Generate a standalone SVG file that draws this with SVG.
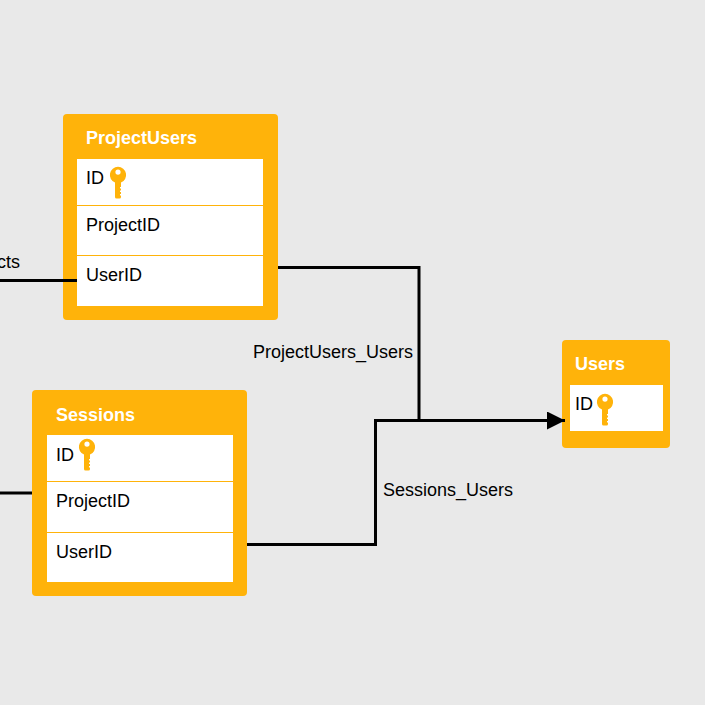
<svg xmlns="http://www.w3.org/2000/svg" width="705" height="705" viewBox="0 0 705 705">
<style>
text{font-family:"Liberation Sans",Arial,sans-serif;font-size:18px;fill:#000}
.title{font-weight:bold;fill:#fff;font-size:18px}
.box{fill:#ffb30a}
.body{fill:#fff}
.div{stroke:#ffb30a;stroke-width:1;fill:none}
.conn{stroke:#000;stroke-width:3;fill:none}
</style>
<defs>
<g id="key">
<path fill-rule="evenodd" fill="#ffb30a" d="M0,-8.200A8.200,8.200 0 0 1 3,7.600V22A1.500,1.500 0 0 1 1.500,23.500H-1.500A1.500,1.500 0 0 1 -3,22V7.600A8.200,8.200 0 0 1 0,-8.200ZM0,-5.500A2.600,2.600 0 1 0 0,-0.300A2.600,2.600 0 1 0 0,-5.500Z"/>
<path d="M2,12h1.500v1.500h-1.500zM2,15.500h1.500v1.500h-1.500zM2,19h1.500v1.500h-1.500z" fill="#fff"/>
</g>
<marker id="arrow" markerUnits="userSpaceOnUse" markerWidth="19" markerHeight="18" refX="18" refY="9" orient="auto"><path d="M0,0L18,9L0,18Z" fill="#000"/></marker>
</defs>
<rect width="705" height="705" fill="#e9e9e9"/>
<g id="ProjectUsers">
<rect class="box" x="63" y="114" width="215" height="206" rx="4"/>
<rect class="body" x="77" y="159" width="186" height="147"/>
<path class="div" d="M77,205.500H263M77,255.500H263"/>
<text class="title" x="86" y="144">ProjectUsers</text>
<text x="86" y="184">ID</text>
<use href="#key" x="118" y="175"/>
<text x="86" y="231">ProjectID</text>
<text x="86" y="281">UserID</text>
</g>
<g id="Sessions">
<rect class="box" x="32" y="390" width="215" height="206" rx="4"/>
<rect class="body" x="47" y="435" width="186" height="147"/>
<path class="div" d="M47,481.500H233M47,532.500H233"/>
<text class="title" x="56" y="421">Sessions</text>
<text x="56" y="461">ID</text>
<use href="#key" x="87" y="447"/>
<text x="56" y="507">ProjectID</text>
<text x="56" y="558">UserID</text>
</g>
<g id="Users">
<rect class="box" x="562" y="340" width="108" height="108" rx="4"/>
<rect class="body" x="570" y="385" width="93" height="46"/>
<text class="title" x="575" y="370">Users</text>
<text x="575" y="410">ID</text>
<use href="#key" x="605" y="402"/>
</g>
<g id="connectors">
<path class="conn" d="M0,280.500H77"/>
<path class="conn" d="M0,493H32"/>
<path class="conn" d="M278,267.500H419V420.500"/>
<path class="conn" d="M247,544.500H375.500V420.500H565" marker-end="url(#arrow)"/>
</g>
<g id="labels">
<text x="-3" y="268">cts</text>
<text x="253" y="358">ProjectUsers_Users</text>
<text x="383" y="496">Sessions_Users</text>
</g>
</svg>
